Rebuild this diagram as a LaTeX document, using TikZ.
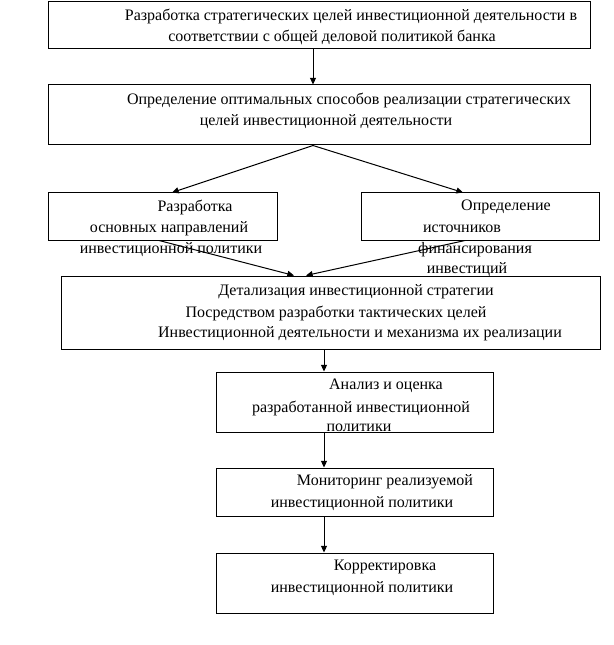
\documentclass[tikz,border=0pt]{standalone}
\usepackage{fontspec}
\setmainfont{Liberation Serif}
\usetikzlibrary{arrows.meta,fit}
\begin{document}
\begin{tikzpicture}[x=0.75pt,y=-0.75pt,
  box/.style={draw,line width=0.75pt,inner sep=0pt,fit={#1}},
  txt/.style={inner sep=0pt,font=\fontsize{12pt}{14pt}\selectfont},
  arr/.style={line width=0.75pt,-{Triangle[width=4.5pt,length=5pt]}}]
\useasboundingbox (0,0) rectangle (613,645);
% boxes
\node[box={(48,2) (590,49)}] (b1) {};
\node[box={(48,85) (590,145)}] (b2) {};
\node[box={(48,193) (277,240)}] (bl) {};
\node[box={(361,193) (599,240)}] (br) {};
\node[box={(61,276) (600,349)}] (bd) {};
\node[box={(216,372) (493,432)}] (ba) {};
\node[box={(216,468) (493,516)}] (bm) {};
\node[box={(216,553) (493,613)}] (bk) {};
% helper coordinates
\coordinate (x1) at (313,0);
\coordinate (xl) at (172,0);
\coordinate (xr) at (463,0);
\coordinate (xl2) at (159,0);
\coordinate (xr2) at (465,0);
\coordinate (xdl) at (294,0);
\coordinate (xdr) at (306,0);
\coordinate (x2) at (324,0);
% texts
\node[txt] (t1a) at (351,16) {Разработка стратегических целей инвестиционной деятельности в};
\node[txt] (t1b) at (332,37) {соответствии с общей деловой политикой банка};
\node[txt] (t2a) at (349,100) {Определение оптимальных способов реализации стратегических};
\node[txt] (t2b) at (326,122) {целей инвестиционной деятельности};
\node[txt] (tla) at (195,207) {Разработка};
\node[txt] (tlb) at (169,229) {основных направлений};
\node[txt] (tlc) at (171,250) {инвестиционной политики};
\node[txt] (tra) at (506,207) {Определение};
\node[txt] (trb) at (462,229) {источников};
\node[txt] (trc) at (475,250) {финансирования};
\node[txt] (trd) at (467,270) {инвестиций};
\node[txt] (tda) at (356,292) {Детализация инвестиционной стратегии};
\node[txt] (tdb) at (336,313) {Посредством разработки тактических целей};
\node[txt] (tdc) at (360,334) {Инвестиционной деятельности и механизма их реализации};
\node[txt] (taa) at (386,386) {Анализ и оценка};
\node[txt] (tab) at (361,408) {разработанной инвестиционной};
\node[txt] (tac) at (359,428) {политики};
\node[txt] (tma) at (385,482) {Мониторинг реализуемой};
\node[txt] (tmb) at (362,504) {инвестиционной политики};
\node[txt] (tka) at (385,567) {Корректировка};
\node[txt] (tkb) at (362,589) {инвестиционной политики};
% arrows
\draw[arr] (b1.south -| x1) -- (b2.north -| x1);
\draw[arr] (b2.south -| x1) -- (bl.north -| xl);
\draw[arr] (b2.south -| x1) -- (br.north -| xr);
\draw[arr] (bl.south -| xl2) -- (bd.north -| xdl);
\draw[arr] (br.south -| xr2) -- (bd.north -| xdr);
\draw[arr] (bd.south -| x2) -- (ba.north -| x2);
\draw[arr] (ba.south -| x2) -- (bm.north -| x2);
\draw[arr] (bm.south -| x2) -- (bk.north -| x2);
\end{tikzpicture}
\end{document}
